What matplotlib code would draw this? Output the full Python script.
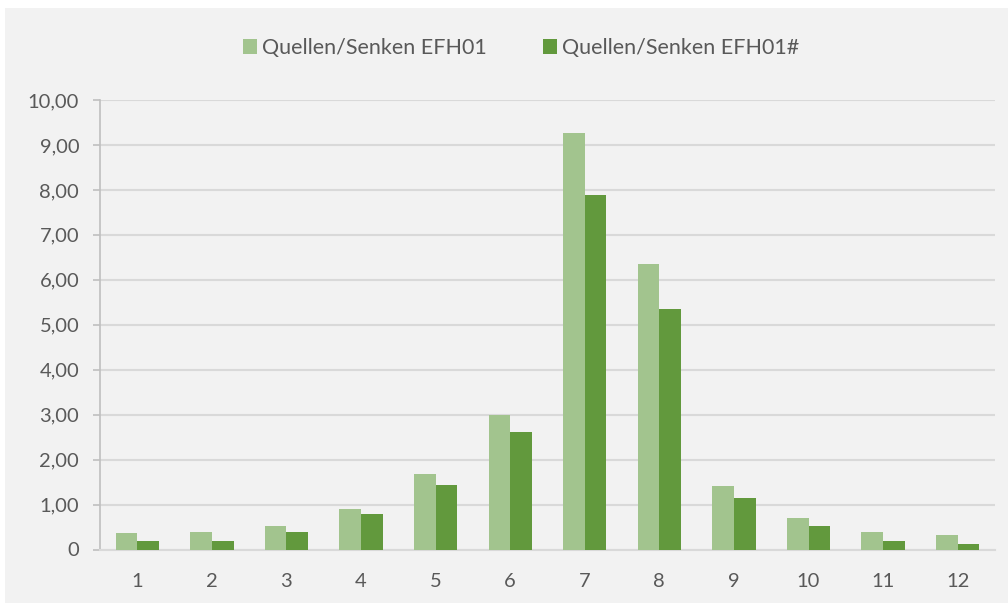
import matplotlib.pyplot as plt
import matplotlib.patches as mpatches
import numpy as np

plt.rcParams['font.family'] = ['Lato', 'DejaVu Sans']

# data
categories = ['1', '2', '3', '4', '5', '6', '7', '8', '9', '10', '11', '12']
efh01 = [0.36, 0.39, 0.52, 0.91, 1.68, 3.00, 9.26, 6.35, 1.41, 0.69, 0.38, 0.32]
efh01_hash = [0.18, 0.18, 0.39, 0.78, 1.44, 2.61, 7.88, 5.35, 1.14, 0.52, 0.18, 0.12]
series_names = ['Quellen/Senken EFH01', 'Quellen/Senken EFH01#']
y_ticks = [0, 1, 2, 3, 4, 5, 6, 7, 8, 9, 10]

LIGHT = '#a2c48e'
DARK = '#62993d'
TXT = '#595959'
BG = '#f2f2f2'

fig = plt.figure(figsize=(10.08, 6.03), dpi=100, facecolor='white')
# gray chart area with thin white margin top/left
fig.patches.append(mpatches.Rectangle((5 / 1008, 0), 1, 1 - 8 / 603,
                                      transform=fig.transFigure, facecolor=BG,
                                      edgecolor='none', zorder=-10))

ax = fig.add_axes([100 / 1008, 1 - 549.5 / 603, 895 / 1008, 449.5 / 603])
ax.set_facecolor(BG)

x = np.arange(len(categories))
w = 0.29
ax.bar(x - w / 2, efh01, w, color=LIGHT, label=series_names[0], zorder=3)
ax.bar(x + w / 2, efh01_hash, w, color=DARK, label=series_names[1], zorder=3)

ax.set_xlim(-0.5, len(categories) - 0.5)
ax.set_ylim(0, 10)
ax.set_yticks(y_ticks)
ax.set_yticklabels(['0'] + ['%d,00' % t for t in y_ticks[1:]])
ax.set_xticks(x)
ax.set_xticklabels(categories)

ax.grid(axis='y', color='#d9d9d9', linewidth=1.5, zorder=0)
for s in ['top', 'right']:
    ax.spines[s].set_visible(False)
ax.spines['left'].set_color('#bfbfbf')
ax.spines['left'].set_linewidth(1.2)
ax.spines['bottom'].set_color('#d9d9d9')
ax.spines['bottom'].set_linewidth(1.5)
ax.tick_params(axis='y', colors='#bfbfbf', labelcolor=TXT, labelsize=14.5,
               length=5, width=1.2, pad=10)
ax.tick_params(axis='x', length=0, labelcolor=TXT, labelsize=14.5, pad=17)

fig.legend(loc='center', bbox_to_anchor=(0.517, 0.92), ncol=2, frameon=False,
           fontsize=15.5, labelcolor=TXT, handlelength=0.65, handleheight=0.7,
           handletextpad=0.25, columnspacing=2.6)

fig.savefig('out.png', dpi=100, facecolor=fig.get_facecolor())
